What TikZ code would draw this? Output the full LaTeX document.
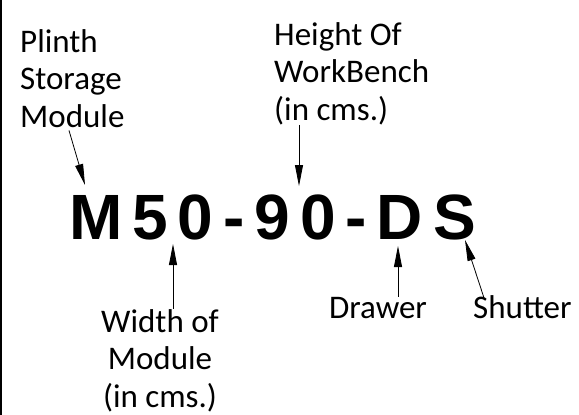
\documentclass[tikz,border=0pt]{standalone}
\usepackage{fontspec}
\setmainfont{Carlito}
\newfontfamily\codefont[LetterSpace=15.5]{Liberation Sans}
\usetikzlibrary{arrows.meta}
\usetikzlibrary{calc}
\tikzset{>={Triangle[length=21pt,width=8pt]}}
\tikzset{lbl/.style={inner sep=0pt, font=\fontsize{33}{37.5}\selectfont}}
\tikzset{ptr/.style={->, line width=0.8pt}}

\begin{document}
\begin{tikzpicture}[x=1pt,y=1pt]
\useasboundingbox (0,0) rectangle (579,-415);
\draw[line width=2pt] (1,0) -- (1,-415);

\node[anchor=base west, inner sep=0pt, font=\codefont\bfseries\fontsize{64}{64}\selectfont] (code) at (69,-239) {M50-90-DS};

% multi-line labels sit on their last line
\node[lbl, anchor=base west, align=left] (plinth) at (20,-127) {Plinth\\Storage\\Module};
\node[lbl, anchor=base west, align=left] (height) at (274,-120) {Height Of\\WorkBench\\(in cms.)};
\node[lbl, anchor=base, align=center] (modwidth) at (160,-407) {Width of\\Module\\(in cms.)};
\node[lbl, anchor=base] (drawer) at (378,-318) {Drawer};
\node[lbl, anchor=base west] (shutter) at (473,-318) {Shutter};

\coordinate (tipM) at (85,-185);
\coordinate (tipH) at (299,-186);
\coordinate (tipW) at (173,-244);
\coordinate (tipD) at (398,-246);
\coordinate (tipS) at (465,-240);

\draw[ptr] ([xshift=49pt,yshift=-3pt]plinth.south west) -- (tipM);
\draw[ptr] (height.south -| tipH) -- (tipH);
\draw[ptr] (modwidth.north -| tipW) -- (tipW);
\draw[ptr] (drawer.north -| tipD) -- (tipD);
\draw[ptr] ([xshift=11pt,yshift=-3pt]shutter.north west) -- (tipS);
\end{tikzpicture}
\end{document}
